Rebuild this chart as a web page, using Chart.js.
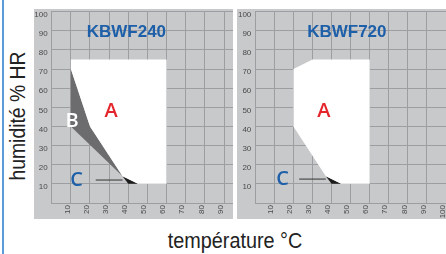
<!DOCTYPE html>
<html><head><meta charset="utf-8">
<script src="https://cdn.jsdelivr.net/npm/chart.js@4/dist/chart.umd.min.js"></script>
<style>
html,body{margin:0;padding:0;width:446px;height:254px;overflow:hidden;background:#fff;position:relative;}
#bar{position:absolute;left:2px;top:0;width:2px;height:254px;background:#5a9bd8;}
.panel{position:absolute;top:9px;height:210px;background:#c8c9cb;}
#p1{left:34px;width:199px;}
#p2{left:237px;width:223px;}
canvas{display:block;}
.ttl{position:absolute;font-family:'Liberation Sans',Arial,sans-serif;color:#222;white-space:nowrap;line-height:1;}
#ytitle{left:18px;top:116px;font-size:22px;transform:translate(-50%,-50%) rotate(-90deg) scaleX(0.88);}
#xtitle{left:235px;top:241px;font-size:22px;transform:translate(-50%,-50%) scaleX(0.9);}
</style></head>
<body>
<div id="bar"></div>
<div class="panel" id="p1"><canvas id="c1" width="199" height="210"></canvas></div>
<div class="panel" id="p2"><canvas id="c2" width="223" height="210"></canvas></div>
<div class="ttl" id="ytitle">humidité % HR</div>
<div class="ttl" id="xtitle">température °C</div>
<script>
// ---- tick values ----
const xTicks = [0, 10, 20, 30, 40, 50, 60, 70, 80, 90, 100];
const yTicks = [0, 10, 20, 30, 40, 50, 60, 70, 80, 90, 100];

// ---- KBWF240 regions (temperature °C, humidity %) ----
const a240X = [10, 60, 60, 45, 37, 20, 10];
const a240Y = [75, 75, 10, 10, 14, 40, 70];
const b240X = [10, 20, 37, 10];
const b240Y = [70, 40, 14, 40];
const c240X = [37, 45, 40];
const c240Y = [14, 10, 10];
const lead240X = [23, 37];
const lead240Y = [12, 12];

// ---- KBWF720 regions ----
const a720X = [20, 30, 60, 60, 45, 37, 20];
const a720Y = [70, 75, 75, 10, 10, 14, 40];
const c720X = [37, 45, 40];
const c720Y = [14, 10, 10];
const lead720X = [23, 37];
const lead720Y = [12.5, 12.5];

// ---- labels ----
const titles = ['KBWF240', 'KBWF720'];
const zoneLabels = ['A', 'B', 'C'];

const GRID = '#9d9ea1';
const BLUE = '#1d5fa8';
const FAM = "'Liberation Sans', Arial, sans-serif";

const pts = (xs, ys) => xs.map((x, i) => ({x: x, y: ys[i]}));
const poly = (xs, ys, color) => ({data: pts(xs, ys), showLine: true, fill: 'shape', backgroundColor: color,
  borderColor: 'rgba(0,0,0,0)', borderWidth: 0, pointRadius: 0, tension: 0});
const line = (xs, ys) => ({data: pts(xs, ys), showLine: true, fill: false, borderColor: '#333333',
  borderWidth: 1, pointRadius: 0, tension: 0});

const notePlugin = {
  id: 'notes',
  afterDatasetsDraw(chart, args, opts) {
    const ctx = chart.ctx, xs = chart.scales.x, ys = chart.scales.y;
    ctx.save();
    ctx.textAlign = 'center';
    ctx.textBaseline = 'middle';
    for (const n of opts.items || []) {
      ctx.font = n.font;
      ctx.fillStyle = n.color;
      ctx.fillText(n.text, xs.getPixelForValue(n.x), ys.getPixelForValue(n.y));
    }
    ctx.restore();
  }
};

function makeChart(id, datasets, xMax, yW, padRight, items) {
  return new Chart(document.getElementById(id), {
    type: 'scatter',
    data: {datasets: datasets},
    plugins: [notePlugin],
    options: {
      responsive: false, animation: false, devicePixelRatio: 1,
      layout: {padding: {top: 2.7, right: padRight, left: 0, bottom: 0}},
      plugins: {legend: {display: false}, tooltip: {enabled: false}, notes: {items: items}},
      scales: {
        x: {type: 'linear', min: 0, max: xMax,
          afterBuildTicks: s => { s.ticks = xTicks.filter(v => v <= xMax).map(v => ({value: v})); },
          afterFit: s => { s.height = 16; s.paddingLeft = 0; s.paddingRight = 0; },
          grid: {color: GRID, lineWidth: 1, drawTicks: false},
          border: {display: true, color: GRID, width: 1},
          ticks: {minRotation: 90, maxRotation: 90, padding: 2, labelOffset: -3.5, color: '#4a4a4a',
            font: {size: 8, family: FAM}, callback: v => v === 0 ? '' : String(v)}},
        y: {type: 'linear', min: 0, max: 100,
          afterBuildTicks: s => { s.ticks = yTicks.map(v => ({value: v})); },
          afterFit: s => { s.width = yW; s.paddingTop = 0; s.paddingBottom = 0; },
          grid: {color: GRID, lineWidth: 1, drawTicks: false},
          border: {display: true, color: GRID, width: 1},
          ticks: {padding: 4, labelOffset: 3, color: '#4a4a4a',
            font: {size: 8, family: FAM}, callback: v => v === 0 ? '' : String(v)}}
      }
    }
  });
}

const LETTER = "600 20px 'Open Sans', sans-serif";
const TITLE = "bold 17px " + FAM;

makeChart('c1', [
  poly(a240X, a240Y, '#ffffff'),
  poly(b240X, b240Y, '#6c6c6f'),
  poly(c240X, c240Y, '#1c1c1c'),
  line(lead240X, lead240Y)
], 94.7, 17.7, 0, [
  {text: titles[0], x: 39, y: 89, font: TITLE, color: BLUE},
  {text: zoneLabels[0], x: 31, y: 48, font: LETTER, color: '#e4262c'},
  {text: zoneLabels[1], x: 10.7, y: 42.5, font: LETTER, color: '#ffffff'},
  {text: zoneLabels[2], x: 13, y: 12, font: LETTER, color: BLUE}
]);

makeChart('c2', [
  poly(a720X, a720Y, '#ffffff'),
  poly(c720X, c720Y, '#1c1c1c'),
  line(lead720X, lead720Y)
], 100, 18.3, 14, [
  {text: titles[1], x: 48, y: 89, font: TITLE, color: BLUE},
  {text: zoneLabels[0], x: 36, y: 48, font: LETTER, color: '#e4262c'},
  {text: zoneLabels[2], x: 14.3, y: 12.2, font: LETTER, color: BLUE}
]);
</script>
</body></html>
